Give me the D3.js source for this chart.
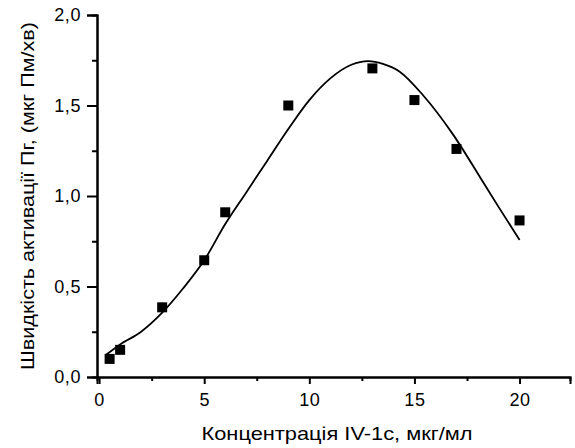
<!DOCTYPE html>
<html><head><meta charset="utf-8">
<script src="https://cdn.jsdelivr.net/npm/d3@7"></script>
<style>
html,body{margin:0;padding:0;background:#fff;}
svg{display:block;}
text{font-family:"Liberation Sans",Arial,sans-serif;fill:#000;}
</style></head>
<body>
<svg id="chart" width="575" height="448"></svg>
<script>
// Measured points
const concX = [0.5, 1, 3, 5, 6, 9, 13, 15, 17, 20];
const rateY = [0.10, 0.15, 0.385, 0.645, 0.91, 1.50, 1.705, 1.53, 1.26, 0.865];
// Fitted curve
const fitX = [0.3, 1, 2, 3, 4, 5, 6, 7, 8, 9, 10, 11, 12, 12.8, 13.5, 14.3, 15.4, 16.8, 18.3, 19, 20];
const fitY = [0.12, 0.18, 0.25, 0.355, 0.49, 0.645, 0.845, 1.02, 1.195, 1.37, 1.53, 1.65, 1.725, 1.745, 1.73, 1.687, 1.558, 1.346, 1.07, 0.94, 0.757];
// Ticks
const xMajor = [0, 5, 10, 15, 20];
const xMinor = [2.5, 7.5, 12.5, 17.5];
const yMajor = [0, 0.5, 1.0, 1.5, 2.0];
const yMinor = [0.25, 0.75, 1.25, 1.75];
const xTitle = "Концентрація IV-1с, мкг/мл";
const yTitle = "Швидкість активації Пг, (мкг Пм/хв)";

const svg = d3.select("#chart");
const x = d3.scaleLinear().domain([-0.1, 22.4]).range([97, 570]);
const y = d3.scaleLinear().domain([0, 2.0]).range([377, 15]);
const fmt = d => d3.format(".1f")(d).replace(".", ",");

function styleAxis(g){
  g.selectAll("path.domain").attr("stroke","#000").attr("stroke-width",2);
  g.selectAll(".tick line").attr("stroke","#000").attr("stroke-width",2);
}
function styleText(g){
  g.selectAll("text").style("font-size","18px")
   .attr("font-family","Liberation Sans, Arial, sans-serif")
   .style("letter-spacing","0.6px");
}

// y minor
svg.append("g").attr("transform","translate(97,0)")
  .call(d3.axisLeft(y).tickValues(yMinor).tickSize(5).tickFormat(""))
  .call(styleAxis);
// y major
svg.append("g").attr("transform","translate(97,0)")
  .call(d3.axisLeft(y).tickValues(yMajor).tickSize(10).tickPadding(6).tickFormat(fmt))
  .call(styleAxis).call(styleText);
// x minor
svg.append("g").attr("transform","translate(0,377)")
  .call(d3.axisBottom(x).tickValues(xMinor).tickSize(4).tickFormat(""))
  .call(styleAxis);
// x major
svg.append("g").attr("transform","translate(0,377)")
  .call(d3.axisBottom(x).tickValues(xMajor).tickSize(7).tickPadding(9).tickFormat(d3.format("d")))
  .call(styleAxis).call(styleText);

// titles
svg.append("text").attr("x",337).attr("y",440).attr("text-anchor","middle")
  .style("font-size","19px").attr("textLength",271).attr("lengthAdjust","spacingAndGlyphs")
  .text(xTitle);
svg.append("text").attr("transform","translate(34,196) rotate(-90)").attr("text-anchor","middle")
  .style("font-size","19px").attr("textLength",348).attr("lengthAdjust","spacingAndGlyphs")
  .text(yTitle);

// curve
const fit = fitX.map((d,i)=>[d, fitY[i]]);
svg.append("path").datum(fit)
  .attr("fill","none").attr("stroke","#000").attr("stroke-width",1.8)
  .attr("d", d3.line().x(d=>x(d[0])).y(d=>y(d[1])).curve(d3.curveMonotoneX));

// points
const pts = concX.map((d,i)=>[d, rateY[i]]);
const s = 10;
svg.append("g").selectAll("rect").data(pts).join("rect")
  .attr("x", d=>x(d[0])-s/2).attr("y", d=>y(d[1])-s/2)
  .attr("width", s).attr("height", s).attr("fill","#000");
</script>
</body></html>
